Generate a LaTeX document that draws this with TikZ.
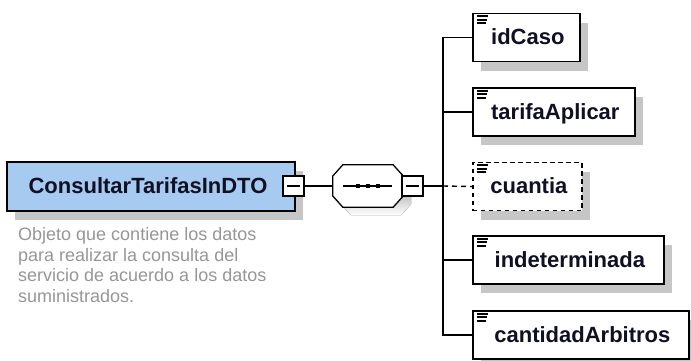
\documentclass[tikz,border=0pt]{standalone}
\usepackage{fontspec}
\setmainfont{Liberation Sans}
\usetikzlibrary{shadows}
\definecolor{boxblue}{RGB}{166,202,240}
\definecolor{shade}{RGB}{198,198,198}
\definecolor{desctext}{RGB}{150,150,150}
\definecolor{ink}{RGB}{16,16,36}
\begin{document}
\begin{tikzpicture}[x=1pt,y=-1pt,
  conn/.style={line width=1.4pt},
  boxshadow/.style={general shadow={fill=shade, shadow xshift=8pt, shadow yshift=-9pt}},
  elbox/.style={draw, line width=1.7pt, fill=white, minimum height=48pt, inner sep=0pt,
    text height=16pt, text depth=2pt,
    anchor=west, font=\bfseries\fontsize{22}{26}\selectfont, text=ink, boxshadow},
  mainbox/.style={draw, line width=1.8pt, fill=boxblue, minimum width=288pt, minimum height=49pt,
    inner sep=0pt, text height=15pt, text depth=2pt,
    font=\bfseries\fontsize{22}{26}\selectfont, text=ink, boxshadow},
  minusbox/.style={draw, line width=1.3pt, fill=white, minimum width=21pt, minimum height=20pt, inner sep=0pt},
  notetext/.style={text=desctext, anchor=north west, align=left, inner sep=0pt,
    font=\fontsize{18}{20.5}\selectfont},
  elicon/.pic={\draw[line width=1.8pt] (5,3.5) -- ++(11,0) (5,7) -- ++(10,0) (5,10.5) -- ++(9,0);}
]
\useasboundingbox (0,0) rectangle (691,360);

% main element
\node[mainbox] (main) at (151,186.5) {\hspace*{-6pt}ConsultarTarifasInDTO};
\node[minusbox] (mm) at (293.5,186) {};
\draw[line width=1.3pt] (mm.center) +(-6.5,0) -- +(6.5,0);

\node[notetext] (note) at (18,227.5) {Objeto que contiene los datos\\para realizar la consulta del\\servicio de acuerdo a los datos\\suministrados.};

% sequence compositor
\node[inner sep=0pt, minimum width=70pt, minimum height=42pt] (seq) at (368,186) {};
\def\seqoutline{([yshift=10pt]seq.west) -- ([xshift=10pt]seq.north west) -- ([xshift=-10pt]seq.north east) -- ([yshift=10pt]seq.east) -- ([yshift=-10pt]seq.east) -- ([xshift=-10pt]seq.south east) -- ([xshift=10pt]seq.south west) -- ([yshift=-10pt]seq.west) -- cycle}
\fill[shade, transform canvas={xshift=8pt,yshift=-8pt}] \seqoutline;
\filldraw[fill=white, line width=1.3pt] \seqoutline;
\draw[line width=1.3pt] (seq.center) +(-25,0) -- +(24,0);
\foreach \dx in {-10,0,10} \fill (seq.center) +(\dx-2.3,-2.3) rectangle +(\dx+2.3,2.3);
\node[minusbox] (sm) at (412.5,186) {};
\draw[line width=1.3pt] (sm.center) +(-6.5,0) -- +(6.5,0);

\draw[conn] (mm.east) -- (seq.west);
\coordinate (bus) at (443,186);
\draw[conn] (sm.east) -- (bus);

% children
\node[elbox, minimum width=107pt] (idc) at (472,37.5) {\hspace*{3pt}idCaso};
\node[elbox, minimum width=162pt] (tar) at (472,112) {\hspace*{3pt}tarifaAplicar};
\node[elbox, minimum width=109pt, dash pattern=on 4.5pt off 3.5pt] (cua) at (472,186.5) {\hspace*{3pt}cuantia};
\node[elbox, minimum width=191pt] (ind) at (472,260) {\hspace*{3pt}indeterminada};
\node[elbox, minimum width=216pt] (cant) at (472,335) {\hspace*{3pt}cantidadArbitros};
\foreach \n in {idc,tar,cua,ind,cant} \pic at (\n.north west) {elicon};

\foreach \n in {idc,tar,ind,cant} \draw[conn] (bus) |- (\n.west);
\draw[conn, dash pattern=on 5pt off 4pt] (bus) -- (cua.west);
\end{tikzpicture}
\end{document}
